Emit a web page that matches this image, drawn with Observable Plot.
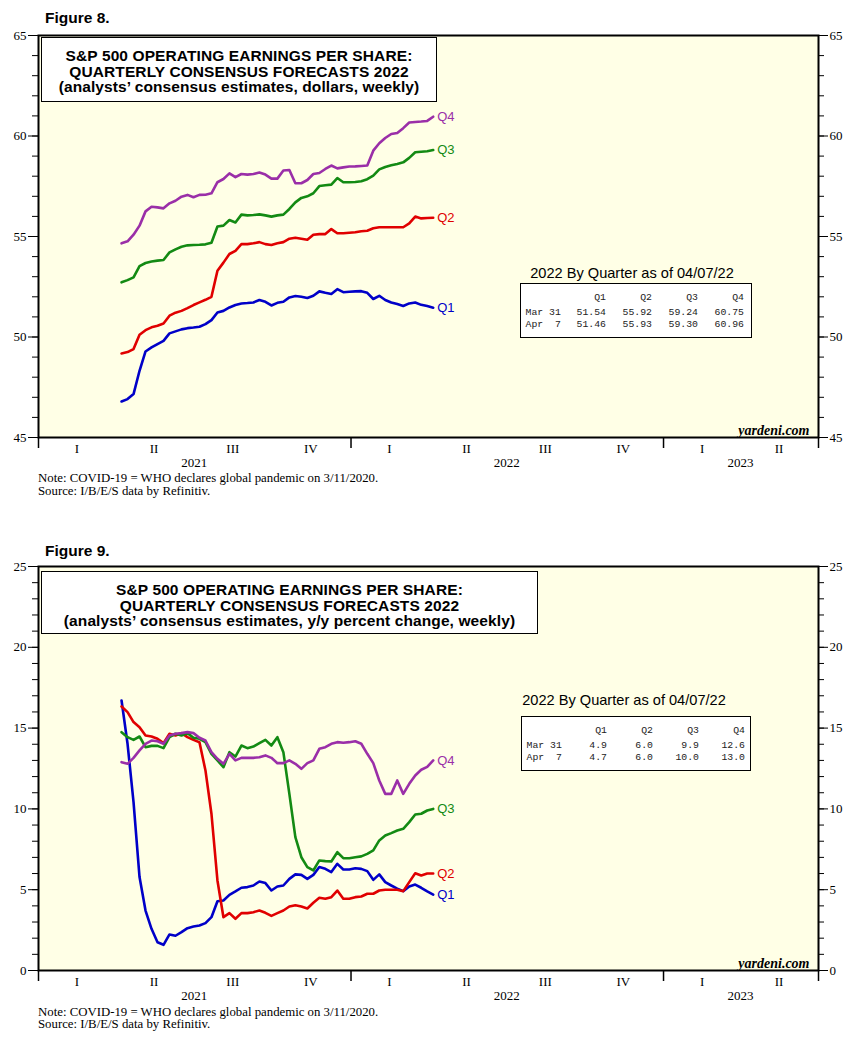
<!DOCTYPE html>
<html><head><meta charset="utf-8">
<script src="https://cdn.jsdelivr.net/npm/d3@7"></script>
<script src="https://cdn.jsdelivr.net/npm/@observablehq/plot@0.6"></script>
<style>
body{margin:0;background:#fff;}
#root{position:relative;width:863px;height:1051px;overflow:hidden;font-family:"Liberation Sans",Arial,sans-serif;color:#000;}
#root svg{position:absolute;left:0;}
.abs{position:absolute;white-space:nowrap;}
.fig{font-weight:bold;font-size:15.5px;line-height:16px;}
.tbox{background:#fff;border:1.5px solid #000;text-align:center;font-weight:bold;font-size:15.5px;line-height:15.5px;box-sizing:border-box;padding-top:10px;letter-spacing:0.1px;}
.note{font-family:"Liberation Serif",serif;font-size:12.8px;line-height:14px;}
.ttl{font-size:14.6px;line-height:16px;transform:translateX(-50%);}
.tab{background:#fff;border:1.5px solid #000;box-sizing:border-box;font-family:"Liberation Mono",monospace;font-size:9.8px;color:#222;}
.tab span{position:absolute;white-space:pre;line-height:12px;}
</style></head>
<body><div id="root"></div>
<script>
// ---------- data ----------
const weekStart = "2021-04-08";          // first weekly observation
const quarters = ["Q1", "Q2", "Q3", "Q4"];
const colors = ["#0000c8", "#e00000", "#138a13", "#9a2fa8"];

// Figure 8: consensus forecasts, dollars per share (weekly)
const eps_q1 = [46.79,46.91,47.16,48.32,49.28,49.48,49.65,49.81,50.18,50.28,
  50.38,50.44,50.47,50.51,50.64,50.84,51.22,51.30,51.47,51.59,
  51.67,51.69,51.72,51.84,51.75,51.57,51.70,51.75,51.97,52.04,
  52.00,51.94,52.05,52.27,52.20,52.14,52.38,52.23,52.25,52.27,
  52.28,52.20,51.89,52.05,51.84,51.72,51.64,51.54,51.67,51.72,
  51.60,51.54,51.46];
const eps_q2 = [49.18,49.25,49.40,50.11,50.34,50.48,50.56,50.67,51.06,51.21,
  51.30,51.44,51.59,51.72,51.85,52.00,53.30,53.70,54.13,54.29,
  54.62,54.62,54.66,54.72,54.62,54.58,54.66,54.72,54.89,54.94,
  54.89,54.84,55.09,55.12,55.12,55.37,55.16,55.16,55.19,55.21,
  55.26,55.29,55.41,55.46,55.46,55.46,55.46,55.46,55.65,55.99,
  55.90,55.92,55.93];
const eps_q3 = [52.72,52.83,52.97,53.53,53.68,53.76,53.80,53.83,54.21,54.36,
  54.49,54.56,54.58,54.59,54.61,54.69,55.50,55.54,55.82,55.70,
  56.09,56.05,56.07,56.10,56.05,55.99,56.05,56.09,56.37,56.70,
  56.92,57.00,57.15,57.51,57.55,57.58,57.91,57.70,57.70,57.71,
  57.75,57.85,58.03,58.34,58.46,58.54,58.61,58.69,58.91,59.19,
  59.22,59.24,59.30];
const eps_q4 = [54.66,54.76,55.09,55.54,56.25,56.48,56.45,56.40,56.65,56.78,
  56.98,57.07,56.95,57.07,57.08,57.15,57.70,57.86,58.14,57.95,
  58.11,58.08,58.11,58.18,58.08,57.88,57.88,58.28,58.31,57.65,
  57.65,57.81,58.11,58.16,58.36,58.53,58.39,58.44,58.48,58.49,
  58.51,58.53,59.27,59.64,59.90,60.10,60.15,60.39,60.67,60.70,
  60.72,60.75,60.96];

// Figure 9: y/y percent change (weekly)
const yoy_q1 = [16.71,14.03,10.42,5.78,3.71,2.58,1.75,1.59,2.23,2.15,
  2.37,2.62,2.72,2.79,2.93,3.30,4.29,4.33,4.68,4.89,
  5.12,5.16,5.26,5.51,5.41,4.95,5.20,5.26,5.67,5.95,
  5.92,5.67,5.92,6.40,6.29,6.09,6.60,6.25,6.25,6.33,
  6.29,6.15,5.61,5.95,5.47,5.26,5.07,4.91,5.20,5.32,
  5.12,4.9,4.7];
const yoy_q2 = [16.34,15.99,15.37,15.06,14.54,14.48,14.34,14.07,14.65,14.54,
  14.69,14.44,14.27,14.13,12.38,9.70,5.57,3.30,3.55,3.20,
  3.55,3.55,3.61,3.71,3.57,3.38,3.55,3.71,3.96,4.04,
  3.96,3.84,4.19,4.50,4.44,4.54,4.95,4.44,4.44,4.54,
  4.58,4.75,4.75,4.95,5.0,5.0,5.0,4.91,5.47,6.02,
  5.88,6.0,6.0];
const yoy_q3 = [14.75,14.44,14.27,14.48,13.82,13.90,13.90,13.76,14.44,14.65,
  14.54,14.69,14.40,14.34,14.13,13.41,13.0,12.58,13.51,13.24,
  13.92,13.76,13.86,14.07,14.27,13.92,14.44,13.51,10.93,8.25,
  7.01,6.40,6.19,6.81,6.77,6.75,7.32,6.95,6.95,7.01,
  7.06,7.22,7.43,8.05,8.35,8.5,8.66,8.77,9.18,9.65,
  9.70,9.9,10.0];
const yoy_q4 = [12.89,12.79,13.16,13.62,14.03,14.23,14.19,14.03,14.54,14.65,
  14.69,14.75,14.69,14.40,14.23,13.51,13.10,12.79,13.41,13.0,
  13.16,13.16,13.16,13.20,13.31,13.16,12.83,12.83,13.0,12.79,
  12.48,12.83,13.0,13.72,13.82,14.03,14.13,14.09,14.13,14.19,
  14.03,13.41,12.83,11.76,10.93,10.93,11.76,10.93,11.55,12.07,
  12.42,12.6,13.0];

// Axis labels
const xDomainDates = ["2021-01-01", "2023-07-01"];
const yearTickDates = ["2021-01-01", "2022-01-01", "2023-01-01", "2023-07-01"];
const quarterLabels = ["I","II","III","IV","I","II","III","IV","I","II"];
const quarterLabelDates = ["2021-02-15","2021-05-16","2021-08-16","2021-11-15",
  "2022-02-15","2022-05-16","2022-08-16","2022-11-15","2023-02-15","2023-05-16"];
const yearLabels = ["2021", "2022", "2023"];
const yearLabelDates = ["2021-07-02", "2022-07-02", "2023-04-01"];
const tableRowLabels = ["Mar 31", "Apr  7"];
const tableTitle = "2022 By Quarter as of 04/07/22";
const noteText = "Note: COVID-19 = WHO declares global pandemic on 3/11/2020.";
const sourceText = "Source: I/B/E/S data by Refinitiv.";

// ---------- build ----------
const dates = d3.range(eps_q1.length).map(i => d3.utcDay.offset(new Date(weekStart), 7 * i));
function toRows(seriesArrays) {
  const rows = [];
  seriesArrays.forEach((arr, k) => arr.forEach((v, i) => rows.push({date: dates[i], value: v, series: quarters[k]})));
  return rows;
}
const bg = "#ffffe6";
const serif = "Liberation Serif, Times New Roman, serif";
const sans = "Liberation Sans, Arial, sans-serif";

function chart({rows, yDomain, major, minor, height, marginTop, marginBottom}) {
  const qRows = quarterLabels.map((t, i) => ({t, d: new Date(quarterLabelDates[i])}));
  const yRows = yearLabels.map((t, i) => ({t, d: new Date(yearLabelDates[i])}));
  return Plot.plot({
    width: 863, height, marginLeft: 38, marginRight: 45, marginTop, marginBottom,
    x: {type: "utc", domain: xDomainDates.map(d => new Date(d))},
    y: {domain: yDomain, label: null},
    color: {domain: quarters, range: colors},
    style: {fontFamily: serif, fontSize: "13px", background: "transparent", color: "#000", overflow: "visible"},
    marks: [
      Plot.frame({fill: bg}),
      Plot.axisY(minor, {anchor: "left", tickSize: 6, tickFormat: () => "", label: null}),
      Plot.axisY(minor, {anchor: "right", tickSize: 5, tickFormat: () => "", label: null}),
      Plot.axisY(major, {anchor: "left", tickSize: 10, tickPadding: 2, label: null, fontSize: 13}),
      Plot.axisY(major, {anchor: "right", tickSize: 9, tickPadding: 2, label: null, fontSize: 13}),
      Plot.axisX(yearTickDates.map(d => new Date(d)), {tickSize: 11, tickFormat: () => "", label: null, strokeWidth: 1.5}),
      Plot.text(qRows, {x: "d", text: "t", frameAnchor: "bottom", dy: 15, fontSize: 13}),
      Plot.text(yRows, {x: "d", text: "t", frameAnchor: "bottom", dy: 29, fontSize: 13}),
      Plot.line(rows, {x: "date", y: "value", stroke: "series", z: "series", strokeWidth: 2.6, strokeLinejoin: "round"}),
      Plot.text(rows, Plot.selectLast({x: "date", y: "value", z: "series", text: "series", fill: "series",
        textAnchor: "start", dx: 4, fontFamily: sans, fontSize: 13})),
      Plot.text(["yardeni.com"], {frameAnchor: "bottom-right", dx: -9, dy: -3, lineAnchor: "bottom",
        fontWeight: "bold", fontStyle: "italic", fontSize: 14}),
      Plot.frame({stroke: "#000", strokeWidth: 2})
    ]
  });
}

const root = document.getElementById("root");
function add(html, cls, style) {
  const el = document.createElement("div");
  el.className = "abs " + cls;
  Object.assign(el.style, style);
  el.innerHTML = html;
  root.appendChild(el);
  return el;
}
function table(left, top, width, seriesArrays, digits) {
  const box = add("", "tab", {left: left + "px", top: top + "px", width: width + "px", height: "55px"});
  const colEdges = [85, 131, 177, 223];
  const rowY = [15, 30, 42];
  const n = seriesArrays[0].length;
  const cell = (txt, x, y, right) => {
    const s = document.createElement("span");
    s.textContent = txt;
    s.style.top = (y - 6 - 1.5) + "px";
    if (right) { s.style.left = (x - 60) + "px"; s.style.width = "60px"; s.style.textAlign = "right"; }
    else s.style.left = x + "px";
    box.appendChild(s);
  };
  quarters.forEach((q, k) => cell(q, colEdges[k], rowY[0], true));
  tableRowLabels.forEach((lab, r) => {
    cell(lab, 4.5, rowY[r + 1], false);
    seriesArrays.forEach((arr, k) => cell(arr[n - 2 + r].toFixed(digits), colEdges[k], rowY[r + 1], true));
  });
}

// Figure 8
const s8 = chart({rows: toRows([eps_q1, eps_q2, eps_q3, eps_q4]), yDomain: [45, 65],
  major: d3.range(45, 66, 5), minor: d3.range(45, 66), height: 500, marginTop: 35, marginBottom: 63});
s8.style.top = "0px";
root.appendChild(s8);
add("Figure 8.", "fig", {left: "45px", top: "10px"});
add("S&amp;P 500 OPERATING EARNINGS PER SHARE:<br>QUARTERLY CONSENSUS FORECASTS 2022<br>(analysts’ consensus estimates, dollars, weekly)",
  "tbox", {left: "41px", top: "37px", width: "396px", height: "65px"});
add(tableTitle, "ttl", {left: "632px", top: "265px"});
table(520, 283, 232, [eps_q1, eps_q2, eps_q3, eps_q4], 2);
add(noteText, "note", {left: "38px", top: "471px"});
add(sourceText, "note", {left: "38px", top: "484px"});

// Figure 9
const s9 = chart({rows: toRows([yoy_q1, yoy_q2, yoy_q3, yoy_q4]), yDomain: [0, 25],
  major: d3.range(0, 26, 5), minor: d3.range(0, 26), height: 521, marginTop: 36, marginBottom: 81});
s9.style.top = "530px";
root.appendChild(s9);
add("Figure 9.", "fig", {left: "45px", top: "543px"});
add("S&amp;P 500 OPERATING EARNINGS PER SHARE:<br>QUARTERLY CONSENSUS FORECASTS 2022<br>(analysts’ consensus estimates, y/y percent change, weekly)",
  "tbox", {left: "41px", top: "571px", width: "497px", height: "63px"});
add(tableTitle, "ttl", {left: "624px", top: "692px"});
table(521, 716, 230, [yoy_q1, yoy_q2, yoy_q3, yoy_q4], 1);
add(noteText, "note", {left: "38px", top: "1005px"});
add(sourceText, "note", {left: "38px", top: "1017px"});
</script>
</body></html>
